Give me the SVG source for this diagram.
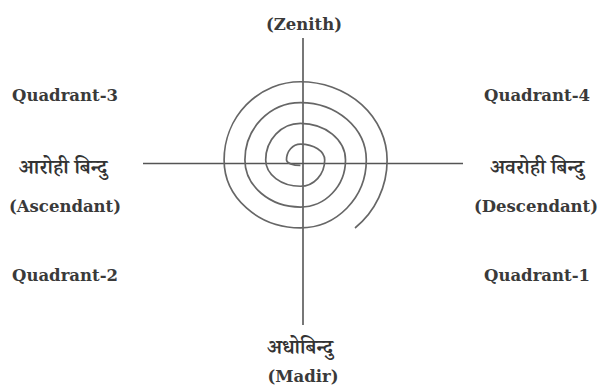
<svg xmlns="http://www.w3.org/2000/svg" width="600" height="386" viewBox="0 0 600 386">
<style>
.lbl{font-family:"DejaVu Serif","Liberation Serif",serif;font-size:16.5px;font-weight:bold;fill:#3a3a3a;}
.dev{font-family:"Noto Serif Devanagari","Noto Sans Devanagari","Lohit Devanagari","Noto Sans",sans-serif;font-size:21px;font-weight:600;fill:#333;}
.axis{stroke:#555;stroke-width:1.6;fill:none;}
.spiral{stroke:#666;stroke-width:1.7;fill:none;}
</style>
<rect width="600" height="386" fill="#fff"/>
<g id="connectors">
<line class="axis" x1="143" y1="163.5" x2="463" y2="163.5"/>
<line class="axis" x1="303" y1="38" x2="303" y2="325"/>
</g>
<g id="spiral">
<path class="spiral" d="M 300.4 165.45 A 13.9 5.45 0 0 1 286.5 160 A 13.9 15.85 0 0 1 300.4 144.15 A 24.3 15.85 0 0 1 324.7 160 A 24.3 26.25 0 0 1 300.4 186.25 A 34.7 26.25 0 0 1 265.7 160 A 34.7 36.65 0 0 1 300.4 123.35 A 45.1 36.65 0 0 1 345.5 160 A 45.1 47.05 0 0 1 300.4 207.05 A 55.5 47.05 0 0 1 244.9 160 A 55.5 57.45 0 0 1 300.4 102.55 A 65.9 57.45 0 0 1 366.3 160 A 65.9 67.85 0 0 1 300.4 227.85 A 76.3 67.85 0 0 1 224.1 160 A 76.3 78.25 0 0 1 300.4 81.75 A 86.7 78.25 0 0 1 387.1 160 A 87 87 0 0 1 355 228"/>
</g>
<g id="zenith"><text class="lbl" x="304" y="30" text-anchor="middle">(Zenith)</text></g>
<g id="quadrant3"><text class="lbl" x="65" y="101" text-anchor="middle">Quadrant-3</text></g>
<g id="quadrant4"><text class="lbl" x="537" y="101" text-anchor="middle">Quadrant-4</text></g>
<g id="quadrant2"><text class="lbl" x="65" y="281" text-anchor="middle">Quadrant-2</text></g>
<g id="quadrant1"><text class="lbl" x="537" y="281" text-anchor="middle">Quadrant-1</text></g>
<g id="ascendant">
<text class="dev" x="63" y="174" text-anchor="middle">आरोही बिन्दु</text>
<text class="lbl" x="65" y="212" text-anchor="middle">(Ascendant)</text>
</g>
<g id="descendant">
<text class="dev" x="537" y="174" text-anchor="middle">अवरोही बिन्दु</text>
<text class="lbl" x="536" y="212" text-anchor="middle">(Descendant)</text>
</g>
<g id="nadir">
<text class="dev" x="300" y="354" text-anchor="middle">अधोबिन्दु</text>
<text class="lbl" x="303" y="382" text-anchor="middle">(Madir)</text>
</g>
</svg>
